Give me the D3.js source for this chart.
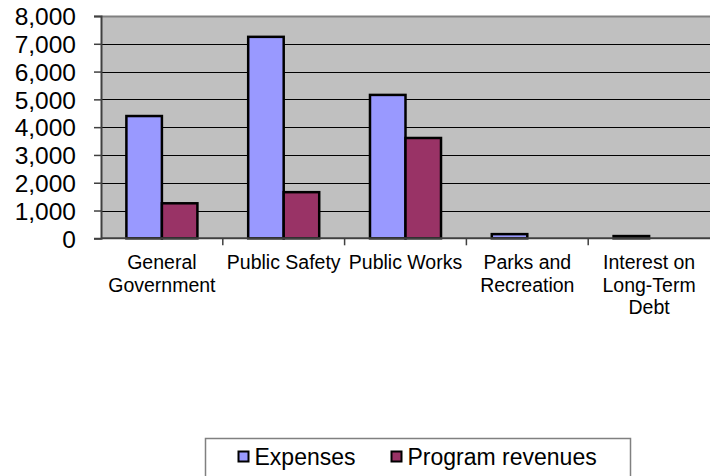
<!DOCTYPE html>
<html>
<head>
<meta charset="utf-8">
<style>
body{
    margin:0;
    background:#fff;
}
svg text{
    font-family:"Liberation Sans", Arial, sans-serif;
    fill:#000;
}
</style>
<title>Expenses and Program Revenues</title>
</head>
<body>
<svg id="chart" width="710" height="476"></svg>
<script src="https://cdnjs.cloudflare.com/ajax/libs/d3/7.8.5/d3.min.js"></script>
<script>
// chart data
var categories = [
    ["General", "Government"],
    ["Public Safety"],
    ["Public Works"],
    ["Parks and", "Recreation"],
    ["Interest on", "Long-Term", "Debt"]
];
var seriesNames = ["Expenses", "Program revenues"];
var expenses = [4400, 7250, 5160, 150, 80];
var programRevenues = [1260, 1660, 3610, 0, 0];
var yTicks = [0, 1000, 2000, 3000, 4000, 5000, 6000, 7000, 8000];

var colors = {"Expenses":"#9999ff", "Program revenues":"#993366"};

var svg = d3.select("#chart");
var m = {l:101, r:710, t:16, b:238.3};

var catKeys = categories.map(function(c){ return c.join(" "); });

var x = d3.scaleBand().domain(catKeys).range([m.l, m.r]).padding(0);
var xs = d3.scaleBand().domain(seriesNames).range([0, x.bandwidth()])
    .paddingInner(0).paddingOuter(0.715);
var y = d3.scaleLinear().domain([0, 8000]).range([m.b, m.t]);

// plot background
svg.append("rect")
    .attr("x", m.l).attr("y", m.t)
    .attr("width", m.r - m.l).attr("height", m.b - m.t)
    .attr("fill", "#c0c0c0");

// gridlines
svg.append("g").selectAll("line").data(yTicks.slice(1, -1)).enter().append("line")
    .attr("x1", m.l).attr("x2", m.r)
    .attr("y1", function(d){ return Math.round(y(d)) + 0.5; })
    .attr("y2", function(d){ return Math.round(y(d)) + 0.5; })
    .attr("stroke", "#000").attr("stroke-width", 1);

// top border
svg.append("line")
    .attr("x1", m.l).attr("x2", m.r)
    .attr("y1", m.t + 0.5).attr("y2", m.t + 0.5)
    .attr("stroke", "#808080").attr("stroke-width", 2);

// bars
var rows = catKeys.map(function(k, i){
    return {key:k, vals:[
        {name:"Expenses", v:expenses[i]},
        {name:"Program revenues", v:programRevenues[i]}
    ]};
});

var grp = svg.append("g").selectAll("g").data(rows).enter().append("g")
    .attr("transform", function(d){ return "translate(" + x(d.key) + ",0)"; });

grp.selectAll("rect").data(function(d){ return d.vals.filter(function(v){ return v.v > 0; }); })
    .enter().append("rect")
    .attr("x", function(d){ return xs(d.name); })
    .attr("y", function(d){ return y(d.v); })
    .attr("width", xs.bandwidth())
    .attr("height", function(d){ return y(0) - y(d.v); })
    .attr("fill", function(d){ return colors[d.name]; })
    .attr("stroke", "#000").attr("stroke-width", 2.5);

// y axis
var yAxis = d3.axisLeft(y).tickValues(yTicks).tickSize(7).tickPadding(0)
    .tickFormat(d3.format(","));
var yg = svg.append("g").attr("transform", "translate(" + m.l + ",0)").call(yAxis);
yg.select(".domain").attr("stroke", "#404040").attr("stroke-width", 2);
yg.selectAll(".tick line").attr("stroke", "#404040").attr("stroke-width", 1.5);
yg.selectAll(".tick text")
    .attr("x", -25)
    .attr("dy", "0.36em")
    .style("font-size", "24.5px");

// x axis
var xg = svg.append("g").attr("transform", "translate(0," + m.b + ")");
xg.append("line")
    .attr("x1", m.l).attr("x2", m.r).attr("y1", 0).attr("y2", 0)
    .attr("stroke", "#404040").attr("stroke-width", 2);
xg.selectAll(".xt").data(catKeys.slice(1)).enter().append("line")
    .attr("class", "xt")
    .attr("x1", function(d){ return x(d); }).attr("x2", function(d){ return x(d); })
    .attr("y1", 0).attr("y2", 7)
    .attr("stroke", "#404040").attr("stroke-width", 1.5);

var labels = xg.selectAll(".xl").data(categories).enter().append("text")
    .attr("class", "xl")
    .attr("text-anchor", "middle")
    .style("font-size", "19.5px");
labels.each(function(d, i){
    var t = d3.select(this);
    d.forEach(function(line, j){
        t.append("tspan")
            .attr("x", x(catKeys[i]) + x.bandwidth() / 2)
            .attr("y", 31 + j * 22.5)
            .text(line);
    });
});

// legend
var lg = svg.append("g").attr("transform", "translate(205.5,438.5)");
lg.append("rect")
    .attr("width", 425).attr("height", 60)
    .attr("fill", "#fff").attr("stroke", "#808080").attr("stroke-width", 1.5);
var legX = [33, 186];
var items = lg.selectAll(".li").data(seriesNames).enter().append("g")
    .attr("class", "li")
    .attr("transform", function(d, i){ return "translate(" + legX[i] + ",0)"; });
items.append("rect")
    .attr("x", 0).attr("y", 13).attr("width", 10).attr("height", 10)
    .attr("fill", function(d){ return colors[d]; })
    .attr("stroke", "#000").attr("stroke-width", 2);
items.append("text")
    .attr("x", 16).attr("y", 26.5)
    .style("font-size", "23px")
    .text(function(d){ return d; });
</script>
</body>
</html>
